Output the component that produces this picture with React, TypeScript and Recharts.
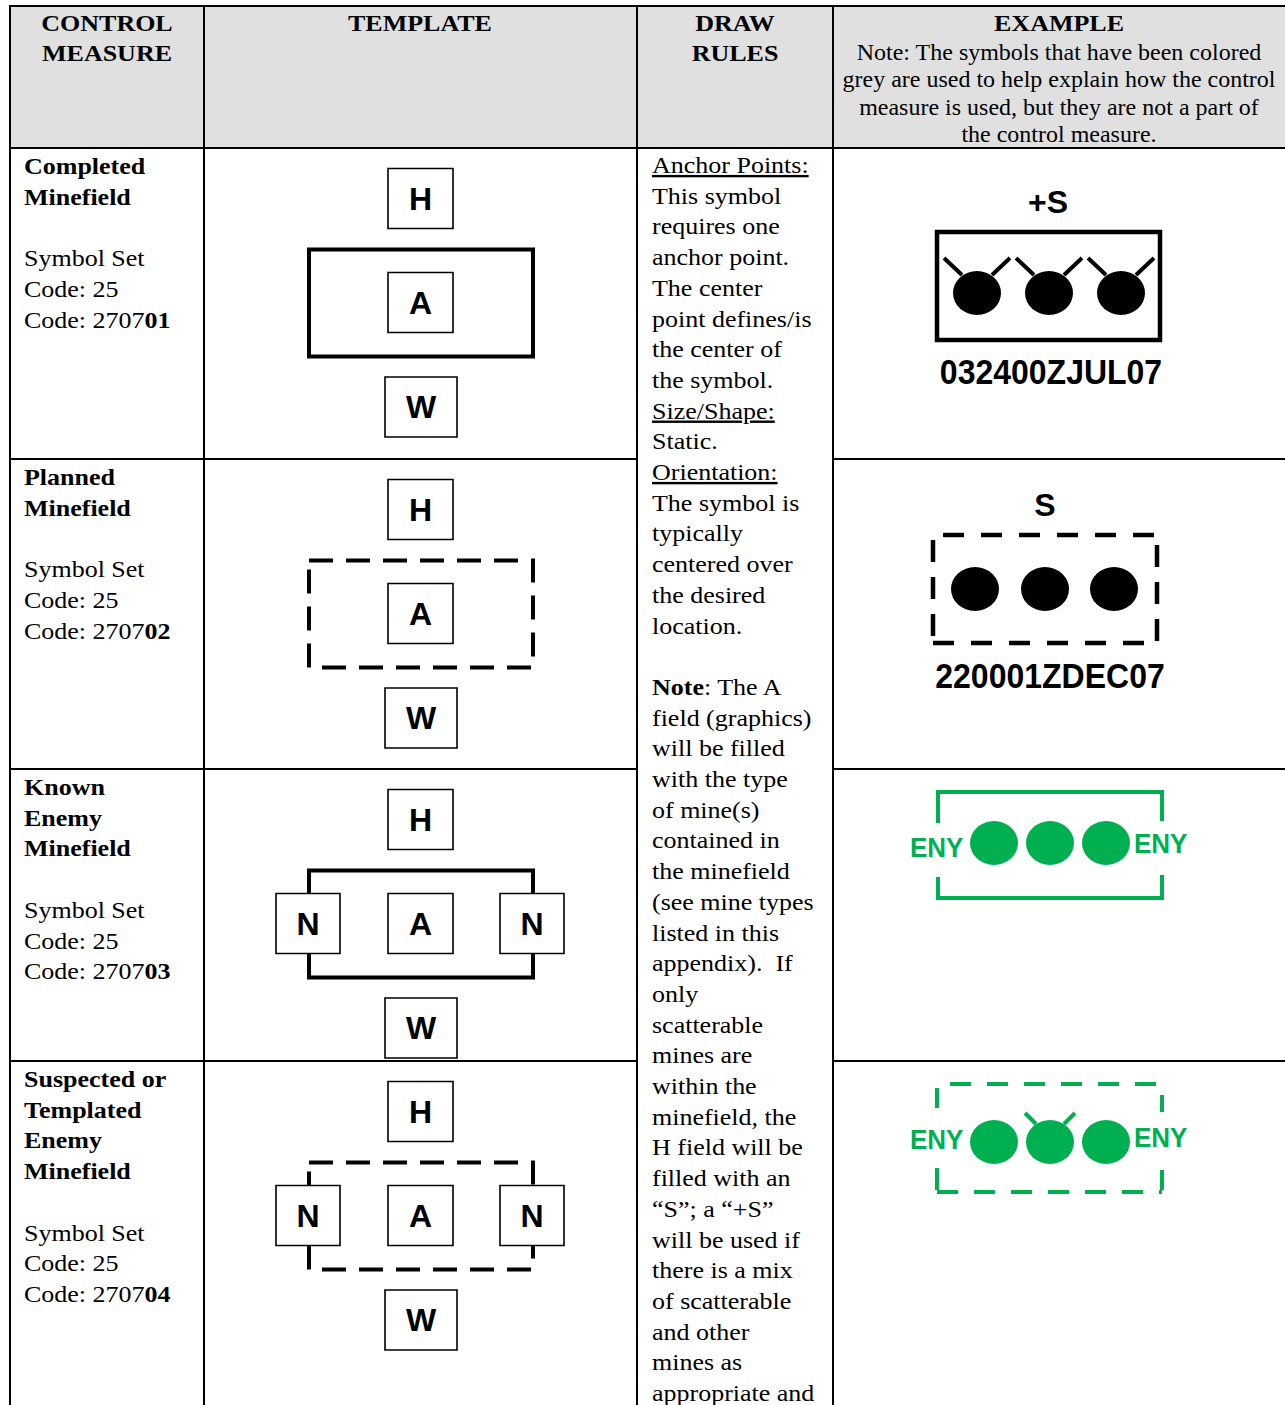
import React from 'react';
import { Surface, Layer, Rectangle } from 'recharts';

// ---------- data ----------
const headerTitles: string[][] = [['CONTROL', 'MEASURE'], ['TEMPLATE'], ['DRAW', 'RULES'], ['EXAMPLE']];
const exampleNote: string[] = [
  'Note: The symbols that have been colored',
  'grey are used to help explain how the control',
  'measure is used, but they are not a part of',
  'the control measure.',
];
const controlMeasures: string[][] = [
  ['Completed', 'Minefield'],
  ['Planned', 'Minefield'],
  ['Known', 'Enemy', 'Minefield'],
  ['Suspected or', 'Templated', 'Enemy', 'Minefield'],
];
const symbolSetCodes: string[] = ['25', '25', '25', '25'];
const entityStems: string[] = ['2707', '2707', '2707', '2707'];
const entitySuffixes: string[] = ['01', '02', '03', '04'];
const fieldLabels: string[] = ['H', 'A', 'W', 'N'];
const templateDashed: boolean[] = [false, true, false, true];
const templateHasN: boolean[] = [false, false, true, true];
const exampleTopLabels: string[] = ['+S', 'S'];
const exampleDtgs: string[] = ['032400ZJUL07', '220001ZDEC07'];
const enemyLabel = 'ENY';
const mineAntennae: boolean[][] = [
  [true, true, true],
  [false, false, false],
  [false, false, false],
  [false, true, false],
];
const drawRuleLines: string[] = [
  'Anchor Points:', 'This symbol', 'requires one', 'anchor point.', 'The center',
  'point defines/is', 'the center of', 'the symbol.', 'Size/Shape:', 'Static.',
  'Orientation:', 'The symbol is', 'typically', 'centered over', 'the desired',
  'location.', '', ': The A', 'field (graphics)', 'will be filled',
  'with the type', 'of mine(s)', 'contained in', 'the minefield', '(see mine types',
  'listed in this', 'appendix).  If', 'only', 'scatterable', 'mines are',
  'within the', 'minefield, the', 'H field will be', 'filled with an', '\u201CS\u201D; a \u201C+S\u201D',
  'will be used if', 'there is a mix', 'of scatterable', 'and other', 'mines as',
  'appropriate and',
];
const drawRuleUnderlined: number[] = [0, 8, 10];
const drawRuleBoldPrefix: { line: number; text: string }[] = [{ line: 17, text: 'Note' }];

// ---------- style ----------
const SERIF = '"Liberation Serif", "Times New Roman", Times, serif';
const SANS = '"Liberation Sans", Arial, Helvetica, sans-serif';
const GREEN = '#00b050';
const SY = 0.92;
const LINE = 30.7;

type TProps = {
  x: number; y: number; size?: number; weight?: string; anchor?: 'start' | 'middle' | 'end';
  family?: string; sx?: number; sy?: number; fill?: string; children?: React.ReactNode;
};
const T = ({ x, y, size = 26, weight = 'normal', anchor = 'start', family = SERIF, sx = 1, sy = SY, fill = '#000', children }: TProps) => (
  <text
    transform={`translate(${x} ${y}) scale(${sx} ${sy})`}
    fontSize={size}
    fontFamily={family}
    fontWeight={weight}
    textAnchor={anchor}
    fill={fill}
    style={{ whiteSpace: 'pre' }}
  >
    {children}
  </text>
);

const rowTops = [148, 459, 769, 1061];

const FieldBox = ({ x, y, w, label }: { x: number; y: number; w: number; label: string }) => (
  <Layer>
    <Rectangle x={x} y={y} width={w} height={60} fill="#fff" stroke="#000" strokeWidth={1.6} />
    <T x={x + w / 2} y={y + 41} size={32} family={SANS} weight="bold" anchor="middle" sy={1}>{label}</T>
  </Layer>
);

const Template = ({ top, dashed, hasN }: { top: number; dashed: boolean; hasN: boolean }) => {
  const y0 = top + 101.5;
  const y1 = top + 208.5;
  return (
    <Layer>
      <FieldBox x={388} y={top + 20.5} w={65} label={fieldLabels[0]} />
      <path
        d={`M309,${y0} H533 V${y1} H309 Z`}
        fill="none"
        stroke="#000"
        strokeWidth={4}
        strokeDasharray={dashed ? '24 13' : undefined}
      />
      <FieldBox x={388} y={top + 124.5} w={65} label={fieldLabels[1]} />
      {hasN && <FieldBox x={276} y={top + 124.5} w={64} label={fieldLabels[3]} />}
      {hasN && <FieldBox x={500} y={top + 124.5} w={64} label={fieldLabels[3]} />}
      <FieldBox x={385} y={top + 229} w={72} label={fieldLabels[2]} />
    </Layer>
  );
};

const Mine = ({ cx, cy, color, antenna, arm }: { cx: number; cy: number; color: string; antenna: boolean; arm: 'long' | 'short' }) => {
  const a = arm === 'long' ? { ox: 33, ix: 15, oy: 35, iy: 18 } : { ox: 25, ix: 14, oy: 29, iy: 18 };
  return (
    <Layer>
      {antenna && (
        <>
          <line x1={cx - a.ox} y1={cy - a.oy} x2={cx - a.ix} y2={cy - a.iy} stroke={color} strokeWidth={4} />
          <line x1={cx + a.ox} y1={cy - a.oy} x2={cx + a.ix} y2={cy - a.iy} stroke={color} strokeWidth={4} />
        </>
      )}
      <ellipse cx={cx} cy={cy} rx={24} ry={22} fill={color} />
    </Layer>
  );
};

const Example1 = () => (
  <Layer>
    <T x={1048} y={213} size={32} family={SANS} weight="bold" anchor="middle" sy={1}>{exampleTopLabels[0]}</T>
    <path d="M937,232 H1160 V340 H937 Z" fill="none" stroke="#000" strokeWidth={4.5} />
    {[977, 1049, 1121].map((cx, i) => (
      <Mine key={i} cx={cx} cy={293} color="#000" antenna={mineAntennae[0][i]} arm="long" />
    ))}
    <T x={1051} y={384} size={32} family={SANS} weight="bold" anchor="middle" sx={1} sy={1.08}>{exampleDtgs[0]}</T>
  </Layer>
);

const Example2 = () => (
  <Layer>
    <T x={1045} y={516} size={32} family={SANS} weight="bold" anchor="middle" sy={1}>{exampleTopLabels[1]}</T>
    <line x1={933} y1={535} x2={1157} y2={535} stroke="#000" strokeWidth={4.5} strokeDasharray="21 17" strokeDashoffset={28} />
    <line x1={933} y1={643} x2={1157} y2={643} stroke="#000" strokeWidth={4.5} strokeDasharray="21 17" />
    <line x1={933} y1={535} x2={933} y2={643} stroke="#000" strokeWidth={4.5} strokeDasharray="22 15" strokeDashoffset={32} />
    <line x1={1157} y1={535} x2={1157} y2={643} stroke="#000" strokeWidth={4.5} strokeDasharray="22 15" strokeDashoffset={27} />
    {[975, 1045, 1114].map((cx, i) => (
      <Mine key={i} cx={cx} cy={589} color="#000" antenna={mineAntennae[1][i]} arm="long" />
    ))}
    <T x={1050} y={688} size={32} family={SANS} weight="bold" anchor="middle" sx={1} sy={1.08}>{exampleDtgs[1]}</T>
  </Layer>
);

const Example3 = () => (
  <Layer>
    <path d="M938,823 V792 H1162 V821" fill="none" stroke={GREEN} strokeWidth={4} />
    <path d="M938,877 V898 H1162 V875" fill="none" stroke={GREEN} strokeWidth={4} />
    {[994, 1050, 1106].map((cx, i) => (
      <Mine key={i} cx={cx} cy={843} color={GREEN} antenna={mineAntennae[2][i]} arm="short" />
    ))}
    <T x={910} y={857} size={26} family={SANS} weight="bold" sx={1} sy={1.05} fill={GREEN}>{enemyLabel}</T>
    <T x={1134} y={853} size={26} family={SANS} weight="bold" sx={1} sy={1.05} fill={GREEN}>{enemyLabel}</T>
  </Layer>
);

const Example4 = () => (
  <Layer>
    <line x1={937} y1={1084} x2={1162} y2={1084} stroke={GREEN} strokeWidth={4} strokeDasharray="21 16" strokeDashoffset={24} />
    <line x1={937} y1={1192} x2={1162} y2={1192} stroke={GREEN} strokeWidth={4} strokeDasharray="21 16" />
    <line x1={937} y1={1088} x2={937} y2={1108} stroke={GREEN} strokeWidth={4} />
    <line x1={937} y1={1168} x2={937} y2={1190} stroke={GREEN} strokeWidth={4} />
    <line x1={1162} y1={1095} x2={1162} y2={1112} stroke={GREEN} strokeWidth={4} />
    <line x1={1162} y1={1170} x2={1162} y2={1190} stroke={GREEN} strokeWidth={4} />
    {[994, 1050, 1106].map((cx, i) => (
      <Mine key={i} cx={cx} cy={1142} color={GREEN} antenna={mineAntennae[3][i]} arm="short" />
    ))}
    <T x={910} y={1149} size={26} family={SANS} weight="bold" sx={1} sy={1.05} fill={GREEN}>{enemyLabel}</T>
    <T x={1134} y={1147} size={26} family={SANS} weight="bold" sx={1} sy={1.05} fill={GREEN}>{enemyLabel}</T>
  </Layer>
);

const App = () => {
  const W = 1285;
  const H = 1405;
  const colX = [10, 204, 637, 833, W];
  const headerCenters = [107, 420, 735, 1059];
  return (
    <div style={{ position: 'absolute', left: 0, top: 0, width: W, height: H, background: '#fff' }}>
      <Surface width={W} height={H}>
        {/* header background */}
        <Rectangle x={10} y={6} width={W - 10} height={142} fill="#e0e0e0" />

        {/* header text */}
        {headerTitles.map((lines, c) =>
          lines.map((ln, i) => (
            <T key={`h${c}-${i}`} x={headerCenters[c]} y={31 + i * 30} weight="bold" anchor="middle">{ln}</T>
          ))
        )}
        {exampleNote.map((ln, i) => (
          <T key={`n${i}`} x={1059} y={60 + i * 27.4} size={24} anchor="middle">{ln}</T>
        ))}

        {/* control measure column */}
        {controlMeasures.map((title, r) => {
          const base = rowTops[r] + 26;
          const n = title.length;
          return (
            <Layer key={`cm${r}`}>
              {title.map((ln, i) => (
                <T key={i} x={24} y={base + i * LINE} weight="bold">{ln}</T>
              ))}
              <T x={24} y={base + (n + 1) * LINE}>Symbol Set</T>
              <T x={24} y={base + (n + 2) * LINE}>{`Code: ${symbolSetCodes[r]}`}</T>
              <T x={24} y={base + (n + 3) * LINE}>
                {`Code: ${entityStems[r]}`}
                <tspan fontWeight="bold">{entitySuffixes[r]}</tspan>
              </T>
            </Layer>
          );
        })}

        {/* templates */}
        {rowTops.map((top, r) => (
          <Template key={`t${r}`} top={top} dashed={templateDashed[r]} hasN={templateHasN[r]} />
        ))}

        {/* draw rules */}
        {drawRuleLines.map((ln, i) => {
          const bold = drawRuleBoldPrefix.find((b) => b.line === i);
          const underline = drawRuleUnderlined.includes(i);
          return (
            <T key={`d${i}`} x={652} y={173 + i * LINE}>
              {bold && <tspan fontWeight="bold">{bold.text}</tspan>}
              <tspan style={underline ? { textDecoration: 'underline' } : undefined}>{ln}</tspan>
            </T>
          );
        })}

        {/* examples */}
        <Example1 />
        <Example2 />
        <Example3 />
        <Example4 />

        {/* grid lines */}
        <line x1={9} y1={6} x2={W} y2={6} stroke="#000" strokeWidth={2} />
        <line x1={9} y1={148} x2={W} y2={148} stroke="#000" strokeWidth={2} />
        {rowTops.slice(1).map((y, i) => (
          <Layer key={`rl${i}`}>
            <line x1={9} y1={y} x2={637} y2={y} stroke="#000" strokeWidth={2} />
            <line x1={833} y1={y} x2={W} y2={y} stroke="#000" strokeWidth={2} />
          </Layer>
        ))}
        {colX.slice(0, 4).map((x, i) => (
          <line key={`cl${i}`} x1={x} y1={5} x2={x} y2={H} stroke="#000" strokeWidth={2} />
        ))}
      </Surface>
    </div>
  );
};

export default App;
